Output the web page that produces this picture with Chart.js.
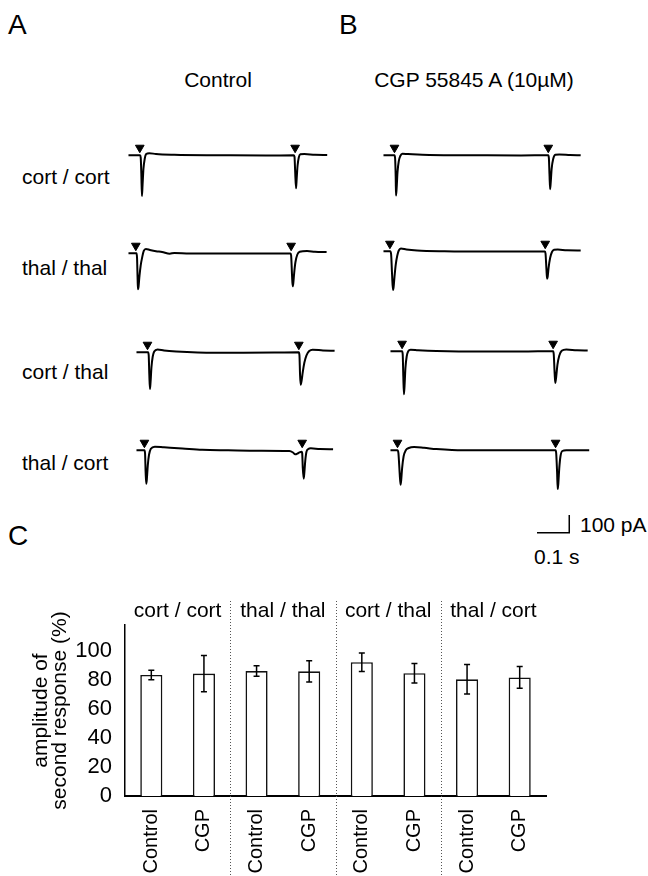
<!DOCTYPE html>
<html>
<head>
<meta charset="utf-8">
<script src="https://cdn.jsdelivr.net/npm/chart.js@4.4.1/dist/chart.umd.min.js"></script>
<style>
  body { margin: 0; background: #fff; }
  #fig { position: relative; width: 648px; height: 876px; overflow: hidden;
         font-family: "Liberation Sans", Arial, sans-serif; color: #000; }
  #fig canvas, #fig .t { position: absolute; }
  .t { font-size: 21px; line-height: 24px; white-space: nowrap; }
  .panel { font-size: 28px; line-height: 32px; }
  .head { width: 240px; text-align: center; }
</style>
</head>
<body>
<div id="fig">
  <div class="t panel" style="left:8px;top:9px">A</div>
  <div class="t panel" style="left:339px;top:9px">B</div>
  <div class="t panel" style="left:8px;top:520px">C</div>

  <div class="t head" style="left:98px;top:68px">Control</div>
  <div class="t head" style="left:354px;top:68px">CGP 55845 A (10µM)</div>

  <div class="t" style="left:22px;top:165px">cort / cort</div>
  <div class="t" style="left:22px;top:256px">thal / thal</div>
  <div class="t" style="left:22px;top:360px">cort / thal</div>
  <div class="t" style="left:22px;top:451px">thal / cort</div>

  <div class="t" style="left:580px;top:513px">100 pA</div>
  <div class="t" style="left:534px;top:545px">0.1 s</div>
</div>

<script>
// ---- traces: [time ms, current pA], time 0 = start of sweep ----
const ctrlCortCort = [[0,0],[38,0],[40,-15],[42,-120],[44,-271],[46,-200],[49,-90],[53,-25],[58,8],[68,14],[90,8],[150,3],[300,0],[450,-2],[540,0],[543,-10],[545,-100],[548,-220],[550,-160],[553,-70],[557,-15],[562,6],[575,8],[610,3],[650,2]];
const cgpCortCort = [[0,0],[36,0],[38,-20],[40,-150],[41,-268],[43,-220],[46,-110],[50,-40],[55,-5],[62,10],[80,8],[150,2],[300,0],[450,-1],[539,0],[541,-20],[543,-130],[545,-226],[547,-180],[550,-90],[555,-25],[562,3],[575,5],[610,2],[645,0]];
const ctrlThalThal = [[0,0],[26,0],[28,-30],[30,-180],[31,-239],[33,-220],[36,-150],[40,-80],[45,-25],[50,15],[57,28],[70,22],[90,14],[110,8],[135,-3],[150,2],[200,-2],[300,-2],[400,-2],[530,-1],[532,-15],[535,-150],[537,-220],[539,-200],[542,-130],[546,-60],[552,-10],[560,10],[584,15],[610,10],[648,8]];
const cgpThalThal = [[0,0],[22,0],[25,-20],[28,-150],[31,-258],[33,-240],[36,-170],[40,-90],[45,-30],[50,5],[57,19],[75,12],[110,5],[200,0],[350,-2],[528,-2],[530,-15],[533,-120],[535,-183],[537,-170],[540,-110],[545,-45],[551,-5],[558,10],[570,12],[600,6],[645,5]];
const ctrlCortThal = [[0,0],[38,0],[40,-20],[42,-150],[44,-245],[46,-200],[49,-100],[53,-30],[58,5],[69,19],[90,12],[130,5],[200,-1],[350,-3],[450,-2],[531,0],[533,-20],[535,-150],[537,-216],[540,-190],[544,-130],[549,-70],[556,-20],[565,8],[576,17],[610,12],[648,10]];
const cgpCortThal = [[0,0],[38,0],[40,-20],[42,-170],[44,-286],[46,-230],[49,-110],[53,-35],[58,0],[66,10],[90,7],[150,2],[300,-2],[450,-1],[532,0],[534,-20],[537,-150],[539,-211],[542,-170],[546,-90],[552,-30],[560,3],[575,12],[610,6],[645,5]];
const ctrlThalCort = [[0,0],[26,0],[28,-20],[30,-150],[32,-223],[34,-190],[37,-100],[41,-30],[47,10],[60,24],[90,20],[150,12],[215,3],[300,0],[400,-3],[500,-5],[512,-15],[519,-27],[530,-18],[540,-10],[542,-20],[544,-120],[547,-189],[549,-150],[552,-70],[556,-10],[562,8],[570,13],[600,8],[643,7]];
const cgpThalCort = [[0,0],[23,0],[26,-20],[30,-150],[33,-229],[35,-200],[38,-120],[43,-40],[50,0],[60,15],[77,21],[110,16],[150,8],[201,2],[300,0],[450,0],[540,0],[542,-20],[545,-150],[547,-258],[549,-220],[552,-120],[556,-40],[562,-5],[575,0],[650,0]];

// stimulus times (ms) marked by the arrowheads
const stimCtrlCortCort = [37, 545];
const stimCgpCortCort = [36, 539];
const stimCtrlThalThal = [24, 532];
const stimCgpThalThal = [21, 529];
const stimCtrlCortThal = [36, 531];
const stimCgpCortThal = [38, 532];
const stimCtrlThalCort = [26, 542];
const stimCgpThalCort = [23, 540];

// scale bar: 0.1 s, 100 pA
const scaleBarTime = [0, 100, 100];
const scaleBarCurrent = [0, 0, 100];

// ---- panel C ----
const conditionLabels = ["Control", "CGP", "Control", "CGP", "Control", "CGP", "Control", "CGP"];
const pairLabels = ["cort / cort", "thal / thal", "cort / thal", "thal / cort"];
const amplitudeMean = [83.5, 84.5, 86.2, 86, 92.3, 84.7, 80.5, 81.8];
const amplitudeErr = [3.2, 12.5, 3.6, 7.3, 6.4, 6.7, 10.2, 7.5];
const amplitudeTicks = [0, 20, 40, 60, 80, 100];

const FONT = '"Liberation Sans", Arial, sans-serif';
const MS_PER_PX = 3.1;
const PA_PER_PX = 5.65;
const ARROW_LIFT = 50; // pA above baseline
const fig = document.getElementById("fig");

function addCanvas(left, top, w, h) {
  const c = document.createElement("canvas");
  c.width = w; c.height = h;
  c.style.left = left + "px"; c.style.top = top + "px";
  fig.appendChild(c);
  return c;
}

// trace canvases: left edge 10px before t=0, baseline 25px below top
const TW = 230, TH = 80;
const traces = [
  { pts: ctrlCortCort, stim: stimCtrlCortCort, x: 123, y: 152.7 },
  { pts: cgpCortCort, stim: stimCgpCortCort, x: 378.3, y: 153.3 },
  { pts: ctrlThalThal, stim: stimCtrlThalThal, x: 123.3, y: 251 },
  { pts: cgpThalThal, stim: stimCgpThalThal, x: 378.3, y: 249.3 },
  { pts: ctrlCortThal, stim: stimCtrlCortThal, x: 130.7, y: 350 },
  { pts: cgpCortThal, stim: stimCgpCortThal, x: 385, y: 349.3 },
  { pts: ctrlThalCort, stim: stimCtrlThalCort, x: 130.7, y: 448.3 },
  { pts: cgpThalCort, stim: stimCgpThalCort, x: 385, y: 447.7 },
];

traces.forEach((tr) => {
  const c = addCanvas(tr.x - 10, tr.y - 25, TW, TH);
  new Chart(c, {
    type: "scatter",
    data: {
      datasets: [
        {
          data: tr.pts.map((p) => ({ x: p[0], y: p[1] })),
          showLine: true,
          borderColor: "#000",
          borderWidth: 2,
          pointRadius: 0,
          cubicInterpolationMode: "monotone",
        },
        {
          data: tr.stim.map((t) => ({ x: t, y: ARROW_LIFT })),
          pointStyle: "triangle",
          rotation: 180,
          pointRadius: 5,
          backgroundColor: "#000",
          borderColor: "#000",
          borderWidth: 1,
        },
      ],
    },
    options: {
      responsive: false,
      animation: false,
      layout: { padding: 0 },
      plugins: { legend: { display: false }, tooltip: { enabled: false } },
      scales: {
        x: { type: "linear", display: false, min: -10 * MS_PER_PX, max: (TW - 10) * MS_PER_PX },
        y: { display: false, min: -(TH - 25) * PA_PER_PX, max: 25 * PA_PER_PX },
      },
    },
  });
});

// scale bar
{
  const c = addCanvas(527, 505, 50, 35);
  new Chart(c, {
    type: "scatter",
    data: {
      datasets: [{
        data: scaleBarTime.map((t, i) => ({ x: t, y: scaleBarCurrent[i] })),
        showLine: true, borderColor: "#000", borderWidth: 1.5, pointRadius: 0,
      }],
    },
    options: {
      responsive: false, animation: false,
      plugins: { legend: { display: false }, tooltip: { enabled: false } },
      scales: {
        x: { type: "linear", display: false, min: -10 * MS_PER_PX, max: 40 * MS_PER_PX },
        y: { display: false, min: -7.3 * PA_PER_PX, max: 27.7 * PA_PER_PX },
      },
    },
  });
}

// ---- bar chart ----
const errorBars = {
  id: "errorBars",
  afterDatasetsDraw(chart) {
    const { ctx } = chart;
    const y = chart.scales.y;
    ctx.save();
    ctx.strokeStyle = "#000";
    ctx.lineWidth = 1.5;
    chart.getDatasetMeta(0).data.forEach((bar, i) => {
      const top = y.getPixelForValue(amplitudeMean[i] + amplitudeErr[i]);
      const bot = y.getPixelForValue(amplitudeMean[i] - amplitudeErr[i]);
      ctx.beginPath();
      ctx.moveTo(bar.x, top); ctx.lineTo(bar.x, bot);
      ctx.moveTo(bar.x - 3, top); ctx.lineTo(bar.x + 3, top);
      ctx.moveTo(bar.x - 3, bot); ctx.lineTo(bar.x + 3, bot);
      ctx.stroke();
    });
    ctx.restore();
  },
};

const pairGroups = {
  id: "pairGroups",
  afterDraw(chart) {
    const { ctx } = chart;
    const xs = chart.getDatasetMeta(0).data.map((b) => b.x);
    ctx.save();
    // dotted dividers between pairs
    ctx.strokeStyle = "#555";
    ctx.lineWidth = 1;
    ctx.setLineDash([1, 2]);
    for (let i = 1; i < xs.length - 1; i += 2) {
      const x = Math.round((xs[i] + xs[i + 1]) / 2) + 0.5;
      ctx.beginPath();
      ctx.moveTo(x, 11);
      ctx.lineTo(x, chart.height);
      ctx.stroke();
    }
    ctx.setLineDash([]);
    // pair labels
    ctx.fillStyle = "#000";
    ctx.font = "21px " + FONT;
    ctx.textAlign = "center";
    ctx.textBaseline = "middle";
    pairLabels.forEach((lab, k) => {
      ctx.fillText(lab, (xs[2 * k] + xs[2 * k + 1]) / 2, 21);
    });
    ctx.restore();
  },
};

const barCanvas = addCanvas(0, 590, 648, 286);
new Chart(barCanvas, {
  type: "bar",
  data: {
    labels: conditionLabels,
    datasets: [{
      data: amplitudeMean,
      backgroundColor: "#fff",
      borderColor: "#111",
      borderWidth: 1.6,
      barPercentage: 0.42,
      categoryPercentage: 1,
    }],
  },
  options: {
    responsive: false,
    animation: false,
    layout: { padding: { top: 35, right: 102, left: 0, bottom: 0 } },
    plugins: { legend: { display: false }, tooltip: { enabled: false } },
    scales: {
      x: {
        grid: { display: false },
        border: { color: "#000", width: 2 },
        ticks: { color: "#000", font: { size: 20, family: FONT }, minRotation: 90, maxRotation: 90, padding: 5 },
        afterFit(s) { s.height = 80; },
      },
      y: {
        min: 0,
        max: 118,
        grid: { display: false },
        border: { color: "#000", width: 1.5 },
        afterBuildTicks(s) { s.ticks = amplitudeTicks.map((v) => ({ value: v })); },
        ticks: { color: "#000", font: { size: 22, family: FONT }, padding: 5 },
        title: {
          display: true,
          text: ["amplitude of", "second response (%)"],
          color: "#000",
          font: { size: 21, family: FONT, lineHeight: 0.9 },
          padding: { top: 32, bottom: 0 },
        },
        afterFit(s) { s.width = 125; },
      },
    },
  },
  plugins: [errorBars, pairGroups],
});
</script>
</body>
</html>
